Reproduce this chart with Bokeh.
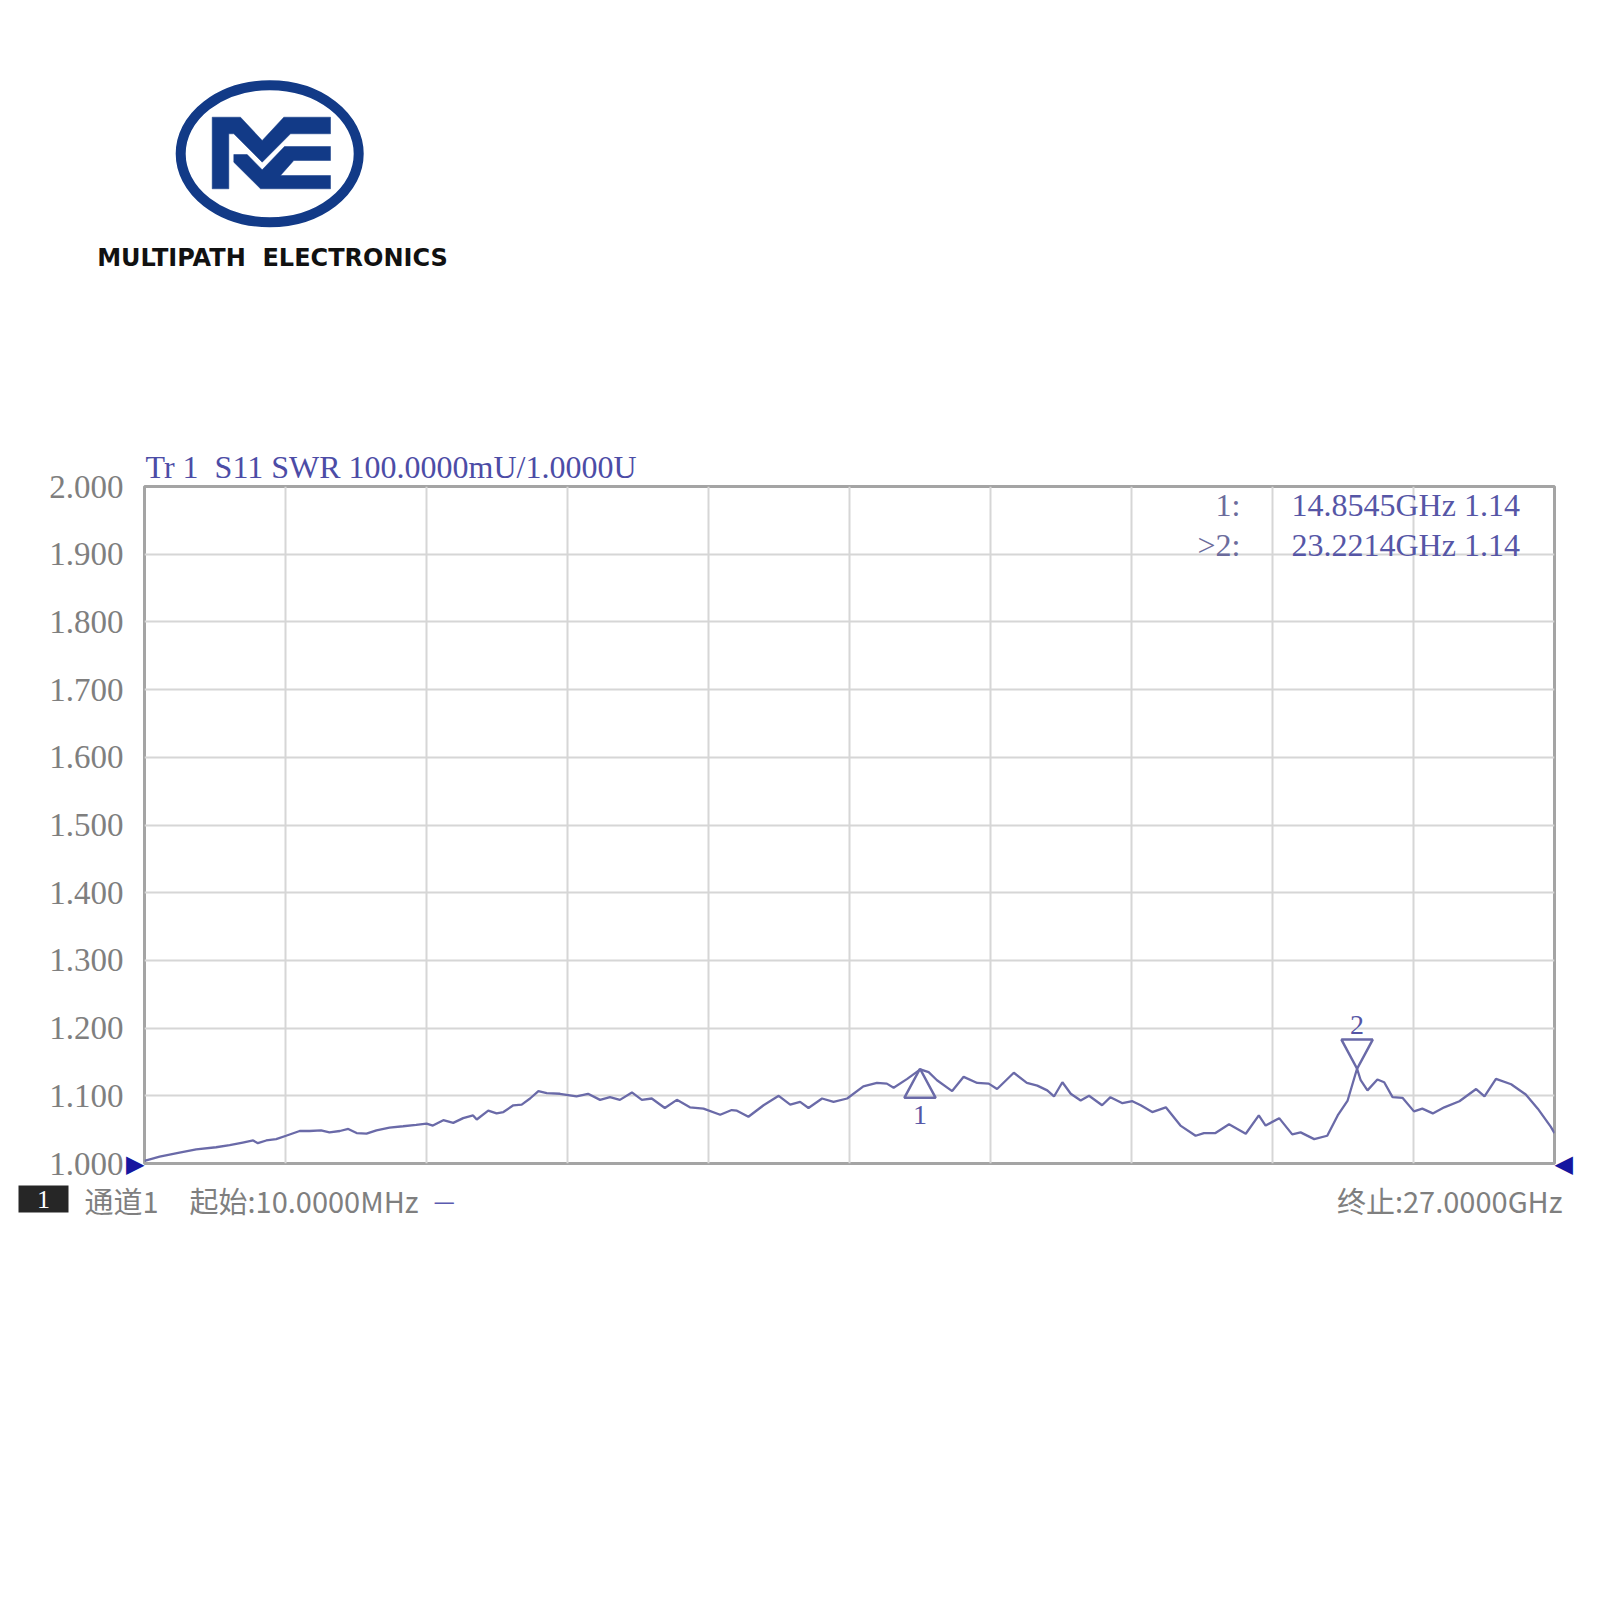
from bokeh.core.properties import value
from bokeh.embed import file_html
from bokeh.layouts import column
from bokeh.models import ColumnDataSource, FixedTicker, Label, LinearAxis, PrintfTickFormatter, Range1d
from bokeh.plotting import figure
from bokeh.resources import INLINE

# S11 SWR trace (GHz, SWR)
freq_ghz = [
    0.01, 0.30, 0.68, 1.00, 1.38, 1.64, 1.89, 2.09, 2.18, 2.34, 2.53, 2.72, 2.98,
    3.17, 3.39, 3.55, 3.75, 3.91, 4.07, 4.26, 4.45, 4.70, 4.96, 5.21, 5.41, 5.53,
    5.73, 5.92, 6.11, 6.30, 6.37, 6.59, 6.75, 6.88, 7.07, 7.23, 7.39, 7.55, 7.71,
    7.96, 8.28, 8.50, 8.73, 8.92, 9.11, 9.34, 9.53, 9.72, 9.97, 10.20, 10.45, 10.71,
    11.03, 11.25, 11.35, 11.57, 11.86, 12.15, 12.37, 12.56, 12.72, 12.98, 13.20,
    13.46, 13.77, 14.03, 14.22, 14.35, 14.61, 14.86, 15.02, 15.18, 15.47, 15.69,
    15.95, 16.17, 16.33, 16.65, 16.90, 17.10, 17.29, 17.42, 17.58, 17.74, 17.93,
    18.09, 18.34, 18.50, 18.73, 18.92, 19.08, 19.30, 19.56, 19.84, 20.13, 20.29,
    20.51, 20.77, 21.09, 21.34, 21.47, 21.73, 21.98, 22.14, 22.40, 22.65, 22.85,
    23.04, 23.22, 23.29, 23.42, 23.61, 23.74, 23.90, 24.09, 24.31, 24.47, 24.67,
    24.89, 25.18, 25.50, 25.66, 25.88, 26.17, 26.45, 26.68, 26.93, 27.00,
]
swr = [
    1.004, 1.010, 1.016, 1.021, 1.024, 1.027, 1.031, 1.034, 1.030, 1.034, 1.036, 1.041, 1.048,
    1.048, 1.049, 1.046, 1.048, 1.051, 1.045, 1.044, 1.049, 1.053, 1.055, 1.057, 1.059, 1.056,
    1.064, 1.060, 1.067, 1.071, 1.065, 1.078, 1.074, 1.076, 1.086, 1.087, 1.096, 1.107, 1.104,
    1.103, 1.099, 1.103, 1.094, 1.098, 1.094, 1.105, 1.094, 1.096, 1.082, 1.094, 1.083, 1.081,
    1.072, 1.079, 1.078, 1.069, 1.086, 1.100, 1.087, 1.091, 1.082, 1.096, 1.091,
    1.096, 1.114, 1.119, 1.118, 1.112, 1.125, 1.139, 1.135, 1.123, 1.107, 1.128,
    1.119, 1.118, 1.110, 1.134, 1.119, 1.115, 1.108, 1.099, 1.120, 1.103, 1.093,
    1.100, 1.086, 1.098, 1.089, 1.092, 1.086, 1.076, 1.083, 1.056, 1.041, 1.045,
    1.045, 1.058, 1.044, 1.071, 1.056, 1.067, 1.043, 1.046, 1.036, 1.041, 1.071,
    1.093, 1.140, 1.123, 1.108, 1.124, 1.120, 1.098, 1.097, 1.077, 1.081, 1.074,
    1.083, 1.092, 1.110, 1.099, 1.125, 1.117, 1.102, 1.081, 1.054, 1.045,
]

marker_names = ["1", "2"]
marker_prefix = ["1:", ">2:"]
marker_freq_ghz = [14.8545, 23.2214]
marker_swr = [1.14, 1.14]
marker_dir = ["up", "down"]

start_ghz, stop_ghz = 0.01, 27.0
y_ticks = [1.0, 1.1, 1.2, 1.3, 1.4, 1.5, 1.6, 1.7, 1.8, 1.9, 2.0]
NB = "\u00a0"  # svg collapses plain double spaces
trace_title = "Tr 1" + NB + NB + "S11 SWR 100.0000mU/1.0000U"
channel_tag = "1"
channel_label = "通道1"
start_label = "起始:10.0000MHz"
stop_label = "终止:27.0000GHz"
brand = "MULTIPATH" + NB + NB + "ELECTRONICS"

NAVY = "#123a87"
TRACE = "#6a6aa8"
MARK_BLUE = "#5656a6"
ARROW = "#1616a0"
GREY_TXT = "#7f7f7f"
SERIF = "Liberation Serif"
CJK = "Noto Sans CJK SC"

W = 1596


def no_align(fig):
    try:
        fig.frame_align = False
    except AttributeError:
        pass


def strip(height):
    f = figure(
        width=W, height=height, x_range=Range1d(0, W), y_range=Range1d(height, 0),
        toolbar_location=None, output_backend="svg", min_border=0,
        outline_line_color=None, title=None,
    )
    f.axis.visible = False
    f.grid.visible = False
    no_align(f)
    return f


# ---- logo strip (pixel-like coords, y down) ----
logo = strip(440)
logo.ellipse(x=[269.2], y=[153.3], width=178, height=137,
             fill_color=None, line_color=NAVY, line_width=10)
shape_a_x = [211.7, 240.0, 261.7, 283.3, 330.0, 330.0, 290.0, 261.7, 233.3, 228.3, 228.3, 211.7]
shape_a_y = [116.7, 116.7, 140.0, 116.7, 116.7, 133.3, 133.3, 161.7, 133.3, 133.3, 188.3, 188.3]
shape_b_x = [233.3, 246.7, 261.7, 284.0, 330.0, 330.0, 293.3, 280.0, 330.0, 330.0, 260.0, 233.3]
shape_b_y = [154.0, 154.0, 169.3, 146.0, 146.0, 160.0, 160.0, 175.0, 175.0, 188.3, 188.3, 161.7]
logo.patches([shape_a_x, shape_b_x], [shape_a_y, shape_b_y],
             fill_color=NAVY, line_color=NAVY, line_width=0.5)
logo.text(x=[272], y=[257], text=[brand], text_align="center", text_baseline="middle",
          text_font=value("DejaVu Sans"), text_font_style="bold",
          text_font_size="24px", text_color="#111111")

# ---- analyser chart ----
p = figure(
    width=W, height=740,
    x_range=Range1d(start_ghz, stop_ghz), y_range=Range1d(1.0, 2.0),
    toolbar_location=None, output_backend="svg", title=trace_title,
    min_border_left=144, min_border_right=W - 144 - 1410, min_border_top=46, min_border_bottom=17,
    background_fill_color="white", border_fill_color="white",
    outline_line_color="#a4a4a4", outline_line_width=3,
)
no_align(p)
p.title.align = "left"
p.title.offset = 1
p.title.standoff = 4
p.title.text_font = SERIF
p.title.text_font_size = "32px"
p.title.text_font_style = "normal"
p.title.text_color = "#4c4ca6"

p.xaxis.visible = False
span = (stop_ghz - start_ghz) / 10
p.xgrid.ticker = FixedTicker(ticks=[start_ghz + i * span for i in range(11)])
p.ygrid.ticker = FixedTicker(ticks=y_ticks)
p.grid.grid_line_color = "#d6d6d6"
p.grid.grid_line_width = 2

num_axis = p.yaxis[0]
num_axis.ticker = FixedTicker(ticks=y_ticks)
num_axis.formatter = PrintfTickFormatter(format="%.3f")
num_axis.axis_line_color = None
num_axis.major_tick_line_color = None
num_axis.minor_tick_line_color = None
num_axis.major_tick_out = 0
num_axis.major_tick_in = 0
num_axis.major_label_standoff = 0
num_axis.major_label_text_font = SERIF
num_axis.major_label_text_font_size = "33px"
num_axis.major_label_text_color = GREY_TXT


def arrow_axis(glyph):
    return LinearAxis(
        ticker=FixedTicker(ticks=[1.0]), major_label_overrides={1.0: glyph},
        axis_line_color=None, major_tick_line_color=None, minor_tick_line_color=None,
        major_tick_out=0, major_tick_in=0, major_label_standoff=0,
        major_label_text_font="DejaVu Sans", major_label_text_font_size="24px",
        major_label_text_color=ARROW,
    )


left_arrow = arrow_axis("▶")
right_arrow = arrow_axis("◀")
p.left = [left_arrow, num_axis]
p.add_layout(right_arrow, "right")

src = ColumnDataSource({"f": freq_ghz, "s": swr})
p.line("f", "s", source=src, line_color=TRACE, line_width=2.3)

# marker triangles and numbers
half_w, tri_h = 0.3, 0.043
tx, ty, nx, ny = [], [], [], []
for f, v, d in zip(marker_freq_ghz, marker_swr, marker_dir):
    tx.append([f, f - half_w, f + half_w])
    if d == "up":
        ty.append([v, v - tri_h, v - tri_h])
        ny.append(v - tri_h - 0.026)
    else:
        ty.append([v, v + tri_h, v + tri_h])
        ny.append(v + tri_h + 0.022)
    nx.append(f)
p.patches(tx, ty, fill_color=None, line_color=TRACE, line_width=2.5)
p.text(x=nx, y=ny, text=marker_names, text_align="center", text_baseline="middle",
       text_font=value(SERIF), text_font_size="28px", text_color=MARK_BLUE)

# marker readout table, top right
for i, (pre, f, v) in enumerate(zip(marker_prefix, marker_freq_ghz, marker_swr)):
    yo = -18 - 40 * i
    p.add_layout(Label(x=stop_ghz, y=2.0, x_offset=-314, y_offset=yo, text=pre,
                       text_align="right", text_baseline="middle", text_font=SERIF,
                       text_font_size="32px", text_color="#6c6c9c"))
    p.add_layout(Label(x=stop_ghz, y=2.0, x_offset=-263, y_offset=yo,
                       text=f"{f:.4f}GHz {v:.2f}",
                       text_align="left", text_baseline="middle", text_font=SERIF,
                       text_font_size="32px", text_color=MARK_BLUE))

# ---- footer strip ----
foot = strip(416)
foot.quad(left=[18], right=[68], top=[5], bottom=[32], fill_color="#262626", line_color=None)
foot.text(x=[43], y=[19], text=[channel_tag], text_align="center", text_baseline="middle",
          text_font=value(SERIF), text_font_size="26px", text_color="white")
foot.text(x=[84, 189], y=[19, 19], text=[channel_label, start_label],
          text_align="left", text_baseline="middle",
          text_font=value(CJK), text_font_size="29px", text_color=GREY_TXT)
foot.text(x=[433], y=[19], text=["—"], text_align="left", text_baseline="middle",
          text_font=value(CJK), text_font_size="24px", text_color="#5a5ab0")
foot.text(x=[1562], y=[19], text=[stop_label], text_align="right", text_baseline="middle",
          text_font=value(CJK), text_font_size="29px", text_color=GREY_TXT)

layout = column(logo, p, foot)
open("out.html", "w").write(file_html(layout, INLINE))
